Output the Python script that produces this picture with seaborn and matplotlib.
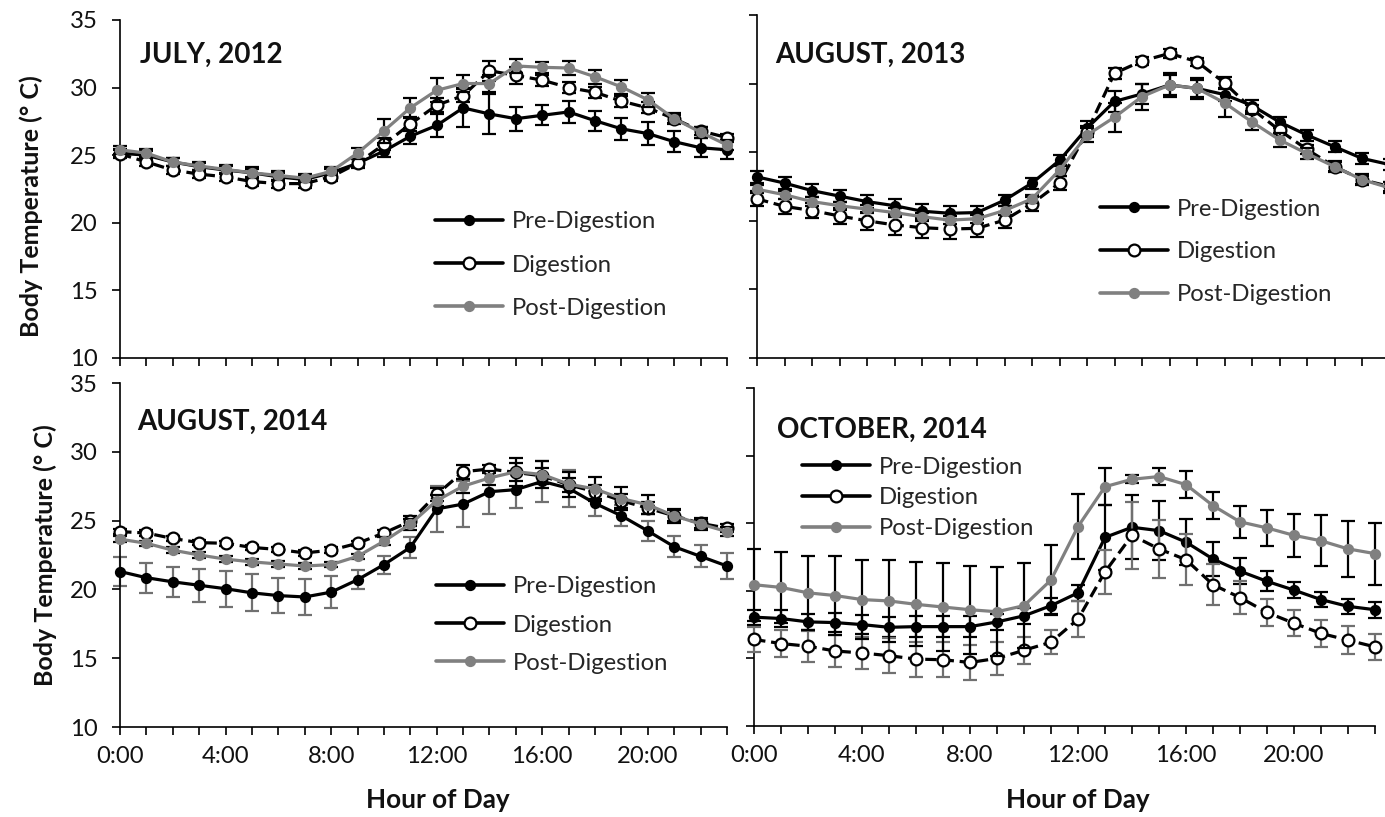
import matplotlib
matplotlib.use("Agg")
import matplotlib.pyplot as plt
import seaborn as sns
import pandas as pd
from matplotlib.lines import Line2D

# ---------------- data ----------------
hours = list(range(24))
tick_hours = [0, 4, 8, 12, 16, 20]
tick_labels = ["0:00", "4:00", "8:00", "12:00", "16:00", "20:00"]
y_ticks = [10, 15, 20, 25, 30, 35]
series_names = ["Pre-Digestion", "Digestion", "Post-Digestion"]
panel_titles = ["JULY, 2012", "AUGUST, 2013", "AUGUST, 2014", "OCTOBER, 2014"]
y_label = "Body Temperature (° C)"
x_label = "Hour of Day"

# JULY, 2012
jul12_pre = [25.15, 25.0, 24.5, 24.15, 23.9, 23.7, 23.4, 23.2, 23.7, 24.4, 25.3, 26.4,
             27.2, 28.5, 28.05, 27.7, 27.95, 28.2, 27.55, 26.95, 26.6, 26.0, 25.55, 25.4]
jul12_pre_err = [0.3, 0.3, 0.3, 0.3, 0.3, 0.3, 0.3, 0.3, 0.3, 0.35, 0.45, 0.6,
                 0.85, 1.45, 1.5, 0.9, 0.75, 0.8, 0.75, 0.8, 0.85, 0.8, 0.7, 0.7]
jul12_dig = [25.1, 24.5, 23.9, 23.6, 23.4, 23.05, 22.9, 22.9, 23.4, 24.4, 25.8, 27.3,
             28.7, 29.4, 31.25, 30.9, 30.55, 30.0, 29.65, 29.0, 28.5, 27.7, 26.8, 26.3]
jul12_dig_err = [0.3, 0.3, 0.3, 0.3, 0.3, 0.3, 0.3, 0.3, 0.3, 0.3, 0.45, 0.5,
                 0.5, 0.5, 0.75, 0.6, 0.4, 0.4, 0.4, 0.4, 0.4, 0.3, 0.3, 0.3]
jul12_post = [25.4, 25.15, 24.5, 24.2, 23.95, 23.7, 23.5, 23.3, 23.8, 25.15, 26.8, 28.5,
              29.8, 30.3, 30.3, 31.6, 31.5, 31.45, 30.8, 30.05, 29.1, 27.7, 26.7, 25.75]
jul12_post_err = [0.3, 0.3, 0.3, 0.3, 0.3, 0.4, 0.3, 0.3, 0.3, 0.4, 0.9, 0.75,
                  0.9, 0.65, 0.65, 0.55, 0.4, 0.5, 0.5, 0.5, 0.5, 0.4, 0.4, 0.4]

# AUGUST, 2013
aug13_pre = [23.2, 22.75, 22.2, 21.8, 21.4, 21.1, 20.7, 20.55, 20.6, 21.5, 22.75, 24.4,
             26.75, 28.7, 29.25, 29.9, 29.65, 29.2, 28.4, 27.2, 26.25, 25.4, 24.55, 24.1]
aug13_pre_err = [0.45, 0.45, 0.45, 0.45, 0.45, 0.5, 0.55, 0.5, 0.45, 0.4, 0.4, 0.4,
                 0.5, 0.75, 0.75, 0.75, 0.6, 0.5, 0.4, 0.4, 0.4, 0.4, 0.4, 0.4]
aug13_dig = [21.6, 21.05, 20.75, 20.35, 20.0, 19.7, 19.5, 19.4, 19.45, 20.05, 21.25, 22.75,
             26.5, 30.75, 31.65, 32.2, 31.6, 30.05, 28.15, 26.6, 25.2, 23.95, 23.0, 22.5]
aug13_dig_err = [0.55, 0.55, 0.55, 0.6, 0.65, 0.7, 0.75, 0.75, 0.65, 0.6, 0.5, 0.5,
                 0.4, 0.4, 0.3, 0.3, 0.3, 0.4, 0.3, 0.3, 0.3, 0.3, 0.3, 0.3]
aug13_post = [22.3, 21.9, 21.4, 21.1, 20.85, 20.6, 20.3, 20.05, 20.15, 20.75, 21.6, 23.7,
              26.25, 27.55, 29.05, 29.9, 29.65, 28.6, 27.2, 25.9, 24.9, 23.95, 23.0, 22.4]
aug13_post_err = [0.3, 0.3, 0.3, 0.3, 0.3, 0.3, 0.3, 0.3, 0.3, 0.3, 0.3, 0.4,
                  0.5, 1.05, 0.95, 0.85, 0.75, 1.0, 0.6, 0.5, 0.4, 0.4, 0.4, 0.4]

# AUGUST, 2014
aug14_pre = [21.3, 20.85, 20.55, 20.3, 20.05, 19.75, 19.55, 19.45, 19.8, 20.7, 21.8, 23.05,
             25.85, 26.2, 27.1, 27.25, 27.85, 27.35, 26.25, 25.35, 24.25, 23.1, 22.4, 21.7]
aug14_pre_err = [1.05, 1.1, 1.1, 1.2, 1.3, 1.35, 1.3, 1.3, 1.15, 0.7, 0.65, 0.75,
                 1.7, 1.65, 1.6, 1.3, 1.5, 1.35, 0.9, 0.75, 0.75, 0.75, 0.8, 0.95]
aug14_dig = [24.2, 24.1, 23.7, 23.4, 23.35, 23.05, 22.9, 22.65, 22.85, 23.35, 24.1, 24.95,
             26.9, 28.55, 28.75, 28.5, 28.25, 27.6, 27.1, 26.45, 25.9, 25.35, 24.8, 24.45]
aug14_dig_err = [0.2, 0.2, 0.2, 0.2, 0.2, 0.2, 0.2, 0.2, 0.2, 0.2, 0.2, 0.35,
                 0.5, 0.5, 0.3, 0.65, 0.6, 0.5, 0.5, 0.5, 0.45, 0.4, 0.35, 0.3]
aug14_post = [23.65, 23.35, 22.85, 22.5, 22.2, 22.0, 21.85, 21.7, 21.8, 22.4, 23.5, 24.75,
              26.45, 27.5, 28.1, 28.55, 28.35, 27.65, 27.3, 26.6, 26.15, 25.35, 24.75, 24.2]
aug14_post_err = [0.2, 0.2, 0.2, 0.2, 0.2, 0.2, 0.2, 0.2, 0.2, 0.2, 0.3, 0.4,
                  0.4, 0.5, 0.5, 1.0, 1.0, 0.9, 0.9, 0.85, 0.7, 0.5, 0.45, 0.35]

# OCTOBER, 2014
oct14_pre = [18.05, 17.95, 17.7, 17.65, 17.5, 17.3, 17.35, 17.35, 17.35, 17.7, 18.15, 18.9,
             19.85, 23.95, 24.7, 24.45, 23.6, 22.35, 21.45, 20.7, 20.05, 19.35, 18.85, 18.6]
oct14_pre_err = [0.55, 0.6, 0.6, 0.7, 0.7, 0.75, 0.75, 0.75, 0.75, 0.6, 0.6, 0.6,
                 0.6, 2.4, 2.35, 2.2, 1.7, 1.25, 0.95, 0.75, 0.6, 0.55, 0.55, 0.6]
oct14_dig = [16.4, 16.1, 15.9, 15.55, 15.4, 15.2, 14.95, 14.9, 14.7, 15.0, 15.6, 16.2,
             17.9, 21.4, 24.1, 23.1, 22.3, 20.45, 19.5, 18.4, 17.6, 16.85, 16.35, 15.85]
oct14_dig_err = [0.95, 1.0, 1.15, 1.15, 1.2, 1.3, 1.3, 1.3, 1.3, 1.2, 1.0, 0.9,
                 1.35, 1.6, 2.5, 2.15, 1.9, 1.5, 1.2, 1.0, 0.95, 1.0, 1.05, 0.95]
oct14_post = [20.45, 20.25, 19.85, 19.65, 19.35, 19.25, 19.0, 18.8, 18.6, 18.45, 18.9, 20.8,
              24.75, 27.7, 28.25, 28.45, 27.85, 26.3, 25.1, 24.65, 24.1, 23.7, 23.1, 22.75]
oct14_post_err = [2.65, 2.6, 2.75, 2.9, 2.9, 3.05, 3.1, 3.25, 3.25, 3.3, 3.15, 2.6,
                  2.4, 1.35, 0.3, 0.6, 1.0, 1.0, 1.2, 1.35, 1.6, 1.9, 2.05, 2.3]

panels_data = [
    [(jul12_pre, jul12_pre_err), (jul12_dig, jul12_dig_err), (jul12_post, jul12_post_err)],
    [(aug13_pre, aug13_pre_err), (aug13_dig, aug13_dig_err), (aug13_post, aug13_post_err)],
    [(aug14_pre, aug14_pre_err), (aug14_dig, aug14_dig_err), (aug14_post, aug14_post_err)],
    [(oct14_pre, oct14_pre_err), (oct14_dig, oct14_dig_err), (oct14_post, oct14_post_err)],
]

# ---------------- style ----------------
sns.set_style("ticks")
plt.rcParams["font.family"] = ["Lato", "DejaVu Sans"]

W, H = 1385, 817
fig = plt.figure(figsize=(W / 100, H / 100), dpi=100)

def px_rect(left, right, top, bottom):
    return [left / W, 1 - bottom / H, (right - left) / W, (bottom - top) / H]

rects = [
    px_rect(120, 727, 20, 358),
    px_rect(757, 757 + 23 * 27.5, 15, 358),
    px_rect(120, 727, 383, 727),
    px_rect(754, 1375, 388, 726),
]

BLACK = "#000000"
GRAY = "#808080"
EGRAY = "#707070"
line_colors = [BLACK, BLACK, GRAY]
marker_face = [BLACK, "white", GRAY]
marker_edge = [BLACK, BLACK, GRAY]
marker_size = [6.5, 8.5, 6.5]
line_styles = ["-", (0, (3.6, 1.8)), "-"]
err_colors = [
    [BLACK, BLACK, BLACK],
    [BLACK, BLACK, BLACK],
    [EGRAY, BLACK, BLACK],
    [BLACK, EGRAY, BLACK],
]

title_pos = [(140, 55), (775, 55), (137, 422), (777, 430)]
legend_pos = [(435, 265, 0.93), (1100, 252, 0.91), (436, 625, 0.72), (802, 498, 0.41)]

FS = 17.2
TXT = "#111111"
axes = []
for i, rect in enumerate(rects):
    ax = fig.add_axes(rect)
    axes.append(ax)
    for j, (vals, errs) in enumerate(panels_data[i]):
        ax.errorbar(hours, vals, yerr=errs, fmt="none", ecolor=err_colors[i][j],
                    elinewidth=1.6, capsize=5, capthick=1.6, zorder=2 + j * 2,
                    clip_on=False)
        df = pd.DataFrame({"hour": hours, "temp": vals})
        sns.lineplot(data=df, x="hour", y="temp", ax=ax, color=line_colors[j],
                     linewidth=2.3, linestyle=line_styles[j], marker="o",
                     markersize=marker_size[j], markerfacecolor=marker_face[j],
                     markeredgecolor=marker_edge[j], markeredgewidth=1.6,
                     errorbar=None, zorder=3 + j * 2, clip_on=False)
    ax.set_xlim(0, 23)
    ax.set_ylim(10, 35)
    ax.set_xticks(hours)
    if i >= 2:
        ax.set_xticklabels([tick_labels[tick_hours.index(h)] if h in tick_hours else "" for h in hours])
    else:
        ax.set_xticklabels([])
    ax.set_yticks(y_ticks)
    if i % 2 == 0:
        ax.set_yticklabels([str(v) for v in y_ticks])
    else:
        ax.set_yticklabels([])
    ax.set_xlabel("")
    ax.set_ylabel("")
    for s in ["top", "right"]:
        ax.spines[s].set_visible(False)
    for s in ["left", "bottom"]:
        ax.spines[s].set_linewidth(1.2)
        ax.spines[s].set_color(BLACK)
    ax.tick_params(axis="both", direction="out", length=6, width=1.2, color=BLACK,
                   labelsize=FS, labelcolor=TXT)
    ax.tick_params(axis="x", pad=8)
    ax.tick_params(axis="y", pad=10)
    ax.patch.set_alpha(0)

    tx, ty = title_pos[i]
    fig.text(tx / W, 1 - ty / H, panel_titles[i], ha="left", va="center",
             fontsize=20, fontweight="bold", color=TXT)

    handles = [Line2D([], [], color=line_colors[j], linewidth=2.6, marker="o",
                      markersize=marker_size[j], markerfacecolor=marker_face[j],
                      markeredgecolor=marker_edge[j], markeredgewidth=1.6)
               for j in range(3)]
    lx, ly, lsp = legend_pos[i]
    ax.legend(handles, series_names, loc="center left",
              bbox_to_anchor=(lx / W, 1 - ly / H), bbox_transform=fig.transFigure,
              frameon=False, fontsize=FS, handlelength=2.85, handletextpad=0.35,
              labelspacing=lsp, borderpad=0, borderaxespad=0, numpoints=1)

fig.text(31 / W, 1 - 206 / H, y_label, rotation=90, ha="center", va="center",
         fontsize=18, fontweight="bold", color=TXT)
fig.text(45 / W, 1 - 555 / H, y_label, rotation=90, ha="center", va="center",
         fontsize=18, fontweight="bold", color=TXT)
fig.text(438 / W, 1 - 800 / H, x_label, ha="center", va="center",
         fontsize=18.8, fontweight="bold", color=TXT)
fig.text(1078 / W, 1 - 800 / H, x_label, ha="center", va="center",
         fontsize=18.8, fontweight="bold", color=TXT)

fig.savefig("out.png", dpi=100)
